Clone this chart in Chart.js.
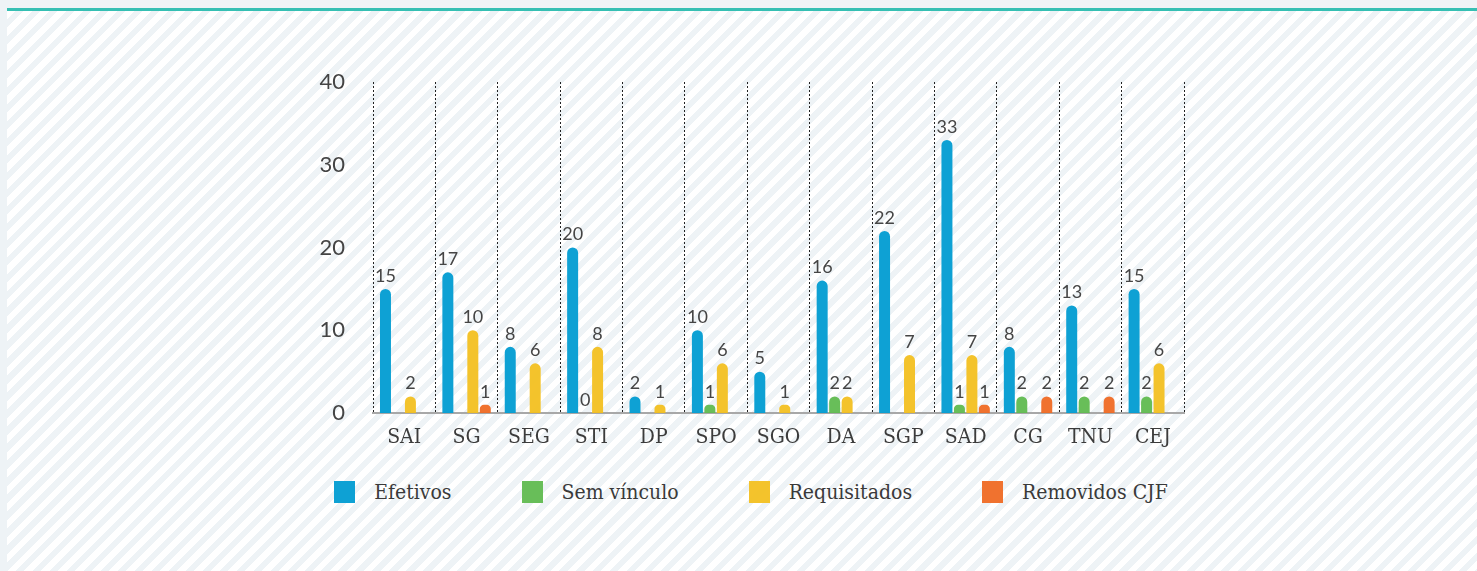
<!DOCTYPE html>
<html>
<head>
<meta charset="utf-8">
<script src="https://cdn.jsdelivr.net/npm/chart.js@4"></script>
<style>
  html, body { margin: 0; padding: 0; }
  body { width: 1477px; height: 571px; background: #eef3f6; overflow: hidden; position: relative; }
  #panel {
    position: absolute; left: 7px; top: 8px; right: 0; bottom: 0;
    border-top: 3px solid #35bfb3;
    background: repeating-linear-gradient(135deg, #ffffff 0 6px, #eef3f6 6px 12px);
  }
  #wrap { position: absolute; left: 0; top: 0; width: 1477px; height: 460px; }
  #legend {
    position: absolute; left: 0; top: 480px; width: 1502px;
    display: flex; justify-content: center; align-items: center;
    font-family: "DejaVu Serif Condensed", "DejaVu Serif", serif; font-stretch: condensed;
    font-size: 21px; color: #3a3a3a;
  }
  #legend .item { display: flex; align-items: center; margin: 0 35px; }
  #legend .box { width: 21px; height: 22px; margin-right: 19px; }
</style>
</head>
<body>
<div id="panel"></div>
<div id="wrap"><canvas id="chart"></canvas></div>
<div id="legend"></div>
<script>
var categories = ["SAI", "SG", "SEG", "STI", "DP", "SPO", "SGO", "DA", "SGP", "SAD", "CG", "TNU", "CEJ"];
var efetivos     = [15, 17, 8, 20, 2, 10, 5, 16, 22, 33, 8, 13, 15];
var semVinculo   = [null, null, null, 0, null, 1, null, 2, null, 1, 2, 2, 2];
var requisitados = [2, 10, 6, 8, 1, 6, 1, 2, 7, 7, null, null, 6];
var removidosCJF = [null, 1, null, null, null, null, null, null, null, 1, 2, 2, null];
var yTicks = [0, 10, 20, 30, 40];

var numFont = "Lato, 'Open Sans', sans-serif";
var slabFont = "'DejaVu Serif Condensed', 'DejaVu Serif', serif";

function serie(label, data, color) {
    return {
        label: label,
        data: data,
        backgroundColor: color,
        borderRadius: 6,
        borderSkipped: 'bottom',
        categoryPercentage: 0.8,
        barPercentage: 0.88
    };
}

// rótulos de valor acima das barras
var valueLabels = {
    id: 'valueLabels',
    afterDatasetsDraw: function (chart) {
        var ctx = chart.ctx;
        ctx.save();
        ctx.font = "18px " + numFont;
        ctx.fillStyle = "#454545";
        ctx.textAlign = "center";
        ctx.textBaseline = "bottom";
        chart.data.datasets.forEach(function (ds, i) {
            var meta = chart.getDatasetMeta(i);
            meta.data.forEach(function (bar, j) {
                var v = ds.data[j];
                if (v === null || v === undefined) return;
                ctx.fillText(String(v), bar.x, bar.y - 4);
            });
        });
        ctx.restore();
    }
};

var chart = new Chart('chart', {
    type: 'bar',
    data: {
        labels: categories,
        datasets: [
            serie("Efetivos", efetivos, "rgba(6,158,211,0.97)"),
            serie("Sem vínculo", semVinculo, "rgba(96,186,80,0.95)"),
            serie("Requisitados", requisitados, "rgba(243,190,28,0.93)"),
            serie("Removidos CJF", removidosCJF, "rgba(239,106,36,0.95)")
        ]
    },
    options: {
        responsive: true,
        maintainAspectRatio: false,
        animation: false,
        layout: { padding: { left: 313, right: 293, top: 82, bottom: 0 } },
        plugins: {
            legend: { display: false },
            tooltip: { enabled: false }
        },
        scales: {
            x: {
                grid: {
                    display: true,
                    offset: true,
                    color: "#222",
                    lineWidth: 1,
                    drawTicks: false
                },
                border: { display: true, color: "#a8a8a8", width: 2, dash: [2, 2] },
                ticks: {
                    color: "#3c3c3c",
                    font: { family: slabFont, size: 21 },
                    padding: 12
                },
                afterFit: function (scale) { scale.height = 47; }
            },
            y: {
                min: 0,
                max: 40,
                afterBuildTicks: function (scale) {
                    scale.ticks = yTicks.map(function (v) { return { value: v }; });
                },
                grid: { display: false, drawTicks: false },
                border: { display: false },
                ticks: {
                    color: "#444",
                    font: { family: numFont, size: 22 },
                    padding: 28
                },
                afterFit: function (scale) { scale.width = 60; }
            }
        }
    },
    plugins: [valueLabels]
});

// legenda em HTML a partir dos datasets
var legend = document.getElementById('legend');
chart.data.datasets.forEach(function (ds) {
    var item = document.createElement('div');
    item.className = 'item';
    var box = document.createElement('span');
    box.className = 'box';
    box.style.background = ds.backgroundColor;
    var txt = document.createElement('span');
    txt.textContent = ds.label;
    item.appendChild(box);
    item.appendChild(txt);
    legend.appendChild(item);
});
</script>
</body>
</html>
